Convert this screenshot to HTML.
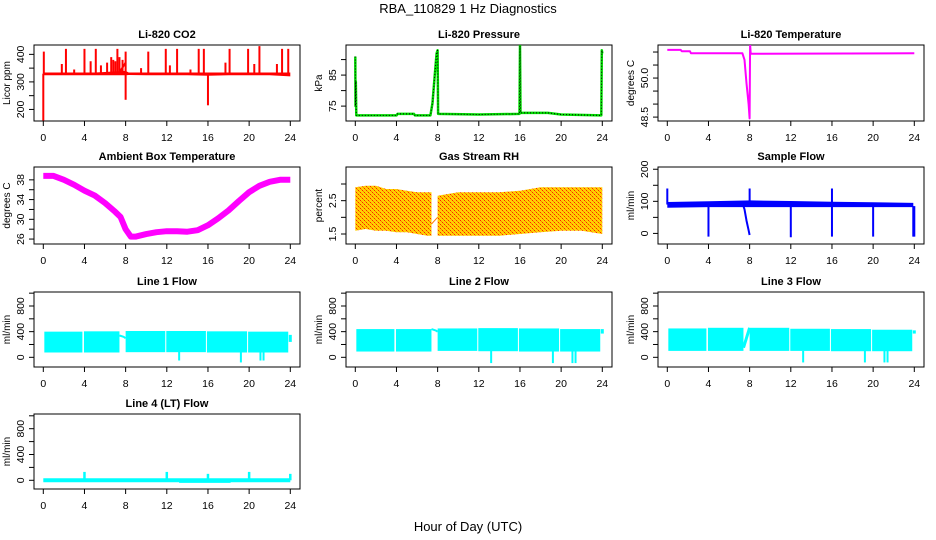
<!DOCTYPE html>
<html><head><meta charset="utf-8"><style>
html,body{margin:0;padding:0;background:#fff;}
svg{display:block;font-family:"Liberation Sans",Arial,sans-serif;}
</style></head><body>
<svg id="chart" width="936" height="540" viewBox="0 0 936 540">
<defs>
<pattern id="rhpat" width="4" height="4" patternUnits="userSpaceOnUse">
<rect width="4" height="4" fill="#ffd000"/>
<rect x="0" y="0" width="1" height="1" fill="#ff2000"/>
<rect x="2" y="2" width="1" height="1" fill="#ff2000"/>
<rect x="1" y="1" width="1" height="1" fill="#ff8000"/>
<rect x="3" y="3" width="1" height="1" fill="#ff8000"/>
</pattern>
</defs>
<text x="468" y="13" text-anchor="middle" font-size="13">RBA_110829  1 Hz Diagnostics</text>
<text x="468" y="531" text-anchor="middle" font-size="13">Hour of Day (UTC)</text>
</svg>
<script>
// ---- data ----
const xTicks = [0,4,8,12,16,20,24];
const co2BandHours = [0,2,4,5,6,7,8,8.3,10,12,14,16,18,20,22,24];
const co2BandHi = [334,334,334,334,336,338,340,334,334,334,334,334,334,334,334,334];
const co2BandLo = [324,324,324,324,324,324,324,325,324,324,324,322,324,324,324,320];
const co2SpikeHours = [0.05,2.2,4.0,5.1,7.2,8.0,10.2,11.9,13.0,15.1,15.6,18.1,19.9,21.0,23.2,23.8,0.0,8.0,16.0,1.8,6.6,17.7,20.5,4.6,5.6,6.2,6.8,7.0,7.4,7.7,3.0,9.5,12.3,14.3,22.7];
const co2SpikeVals = [410,420,420,420,420,410,410,420,420,420,420,420,420,430,420,420,160,235,215,365,390,370,365,375,360,370,380,375,390,380,345,350,360,345,365];
const presHours = [0,0.02,0.05,0.1,4,4.1,5.7,5.8,7.3,7.5,7.7,7.9,8.0,8.05,12,15.95,16.0,16.05,18.7,20,23.9,23.95,24];
const presVals = [91,75,83,72,72,72.5,72.5,72,72,76,84,92,93,72.5,72.3,72.5,94.5,72.8,72.8,72.3,72,93,92];
const tempHours = [0,1.3,1.4,2.2,2.3,7.3,7.5,7.7,7.9,8.0,8.05,8.1,8.15,24];
const tempVals = [51.08,51.08,51.03,51.03,50.95,50.95,50.7,49.8,49.0,48.45,51.3,50.93,50.93,50.95];
const ambHours = [0,1,2,3,4,5,6,7,7.5,8,8.5,9,10,11,12,13,14,15,16,17,18,19,20,21,22,23,24];
const ambVals = [38.8,38.8,38,37,35.8,34.8,33.3,31.5,30.5,28,26.5,26.5,27,27.4,27.6,27.6,27.5,27.8,28.8,30.2,31.8,33.7,35.5,36.8,37.6,38,38];
const rhHours1 = [0,1,2,3,4,5,6,7,7.4];
const rhHi1 = [2.9,2.95,2.95,2.85,2.85,2.8,2.75,2.75,2.75];
const rhLo1 = [1.6,1.65,1.6,1.6,1.55,1.55,1.5,1.45,1.45];
const rhHours2 = [8,10,12,14,16,18,20,22,24];
const rhHi2 = [2.65,2.75,2.75,2.75,2.8,2.9,2.9,2.9,2.9];
const rhLo2 = [1.45,1.45,1.45,1.45,1.5,1.55,1.6,1.6,1.5];
const sfHours = [0,4,8.1,12,16,20,23.9];
const sfHi = [98,100,103,101,99,97,95];
const sfLo = [80,82,82,82,82,82,82];
const sfDropHours = [4,12,16,20,24,23.9];
const sfDropVals = [-10,-12,-10,-10,-10,-10];
const sfRampHours = [7.3,7.5,7.7,7.9,8.0];
const sfRampVals = [95,75,40,10,-5];
const sfPeakHours = [0,8.0,16];
const sfPeakVals = [140,140,140];
const flowSegStart = [0.1,3.95,8.0,11.95,15.9,19.9];
const flowSegEnd = [3.8,7.4,11.85,15.8,19.8,23.8];
const line1Hi = [400,405,410,410,405,400];
const line1Lo = [75,75,80,80,75,75];
const line2Hi = [440,440,450,455,450,440];
const line2Lo = [90,90,100,95,90,90];
const line3Hi = [450,460,460,445,440,430];
const line3Lo = [100,100,100,100,95,95];
const flowDropHours = [13.2,19.2,21.1,21.4];
const line1DropVals = [-50,-80,-50,-50];
const line2DropVals = [-90,-90,-90,-90];
const line3DropVals = [-80,-80,-80,-80];
const l4SpikeHours = [4,12,16,20,24];
const l4SpikeVals = [130,130,100,130,100];
const l4NegHours = [13.2,18.2];
const l4NegVals = [-40,-40];

// ---- helpers ----
const NS = "http://www.w3.org/2000/svg";
const svg = document.getElementById('chart');
function mk(tag, attrs, parent){
  const e = document.createElementNS(NS, tag);
  for (const k in attrs) e.setAttribute(k, attrs[k]);
  (parent||svg).appendChild(e);
  return e;
}
const cols = [34,346,658];
const rows = [[45,121],[167,244],[292,367],[414,489]];
function makePanel(col,row,title,ylab,ymin,ymax,yTicks,yLabels,name){
  const L = cols[col], R = L+266, T = rows[row][0], B = rows[row][1];
  const g = mk('g',{});
  
  
  const sx = h => L + 9.3 + h*(247/24);
  const sy = v => B - (v-ymin)/(ymax-ymin)*(B-T);
  const box = mk('rect',{x:L,y:T,width:R-L,height:B-T,fill:'none',stroke:'#000','stroke-width':1},g);
  
  
  const t = mk('text',{x:(L+R)/2,y:T-7,'text-anchor':'middle','font-size':11,'font-weight':'bold'},g);
  t.textContent = title;
  
  
  const xa = mk('g',{},g);
  
  
  mk('line',{x1:sx(0),x2:sx(24),y1:B,y2:B,stroke:'#000'},xa);
  xTicks.forEach(h=>{
    mk('line',{x1:sx(h),x2:sx(h),y1:B,y2:B+5,stroke:'#000'},xa);
    const tl = mk('text',{x:sx(h),y:B+20,'text-anchor':'middle','font-size':10.5},xa);
    tl.textContent = h;
    
    
  });
  const ya = mk('g',{},g);
  
  
  mk('line',{x1:L,x2:L,y1:sy(yTicks[0]),y2:sy(yTicks[yTicks.length-1]),stroke:'#000'},ya);
  yTicks.forEach((v,i)=>{
    mk('line',{x1:L-5,x2:L,y1:sy(v),y2:sy(v),stroke:'#000'},ya);
    if (yLabels[i]) {
      const yl = mk('text',{x:L-10,y:sy(v),'text-anchor':'middle','font-size':10.5,transform:`rotate(-90 ${L-10} ${sy(v)})`},ya);
      yl.textContent = yLabels[i];
      
      
    }
  });
  const yt = mk('text',{x:L-24,y:(T+B)/2,'text-anchor':'middle','font-size':10,transform:`rotate(-90 ${L-24} ${(T+B)/2})`},g);
  yt.textContent = ylab;
  
  
  const clip = 'c'+name;
  const cp = mk('clipPath',{id:clip},g); mk('rect',{x:L,y:T,width:R-L,height:B-T},cp);
  const dg = mk('g',{'clip-path':`url(#${clip})`},g);
  
  
  return {sx,sy,g:dg};
}
function line(p,hs,vs,color,w,extra){
  const pts = hs.map((h,i)=>p.sx(h).toFixed(1)+','+p.sy(vs[i]).toFixed(1)).join(' ');
  const e = mk('polyline',Object.assign({points:pts,fill:'none',stroke:color,'stroke-width':w,'stroke-linejoin':'round'},extra||{}),p.g);
  
  
  return e;
}
function band(p,hs,hi,lo,fill){
  const up = hs.map((h,i)=>p.sx(h).toFixed(1)+','+p.sy(hi[i]).toFixed(1));
  const dn = hs.map((h,i)=>p.sx(h).toFixed(1)+','+p.sy(lo[i]).toFixed(1)).reverse();
  const e = mk('polygon',{points:up.concat(dn).join(' '),fill:fill,stroke:'none'},p.g);
  
  
  return e;
}
function spikes(p,hs,vs,base,color,w){
  hs.forEach((h,i)=>{
    const e = mk('line',{x1:p.sx(h),x2:p.sx(h),y1:p.sy(base),y2:p.sy(vs[i]),stroke:color,'stroke-width':w},p.g);
    
    
  });
}
function segBands(p,st,en,hi,lo,color){
  st.forEach((s,i)=>{
    const e = mk('rect',{x:p.sx(s),y:p.sy(hi[i]),width:p.sx(en[i])-p.sx(s),height:p.sy(lo[i])-p.sy(hi[i]),fill:color},p.g);
    
    
  });
}

// ---- panels ----
const p1 = makePanel(0,0,'Li-820 CO2','Licor ppm',158,434,[200,250,300,350,400],['200','','300','','400'],'co2');
band(p1,co2BandHours,co2BandHi,co2BandLo,'#ff0000');
spikes(p1,co2SpikeHours,co2SpikeVals,330,'#ff0000',2);
line(p1,[7.4,8.0],[335,370],'#ff0000',2);

const p2 = makePanel(1,0,'Li-820 Pressure','kPa',70.2,94.7,[75,80,85,90],['75','','85',''],'pressure');
line(p2,presHours,presVals,'#00dd00',2.5);
line(p2,presHours,presVals,'#000',1,{'stroke-dasharray':'1,2'});

const p3 = makePanel(2,0,'Li-820 Temperature','degrees C',48.35,51.27,[48.5,49,49.5,50,50.5,51],['48.5','','','50.0','',''],'temperature');
line(p3,tempHours,tempVals,'#ff00ff',2);

const p4 = makePanel(0,1,'Ambient Box Temperature','degrees C',25.0,40.6,[26,28,30,32,34,36,38],['26','','30','','34','','38'],'ambient');
line(p4,ambHours,ambVals,'#ff00ff',6);

const p5 = makePanel(1,1,'Gas Stream RH','percent',1.2,3.51,[1.5,2,2.5,3],['1.5','','2.5',''],'rh');
band(p5,rhHours1,rhHi1,rhLo1,'url(#rhpat)');
band(p5,rhHours2,rhHi2,rhLo2,'url(#rhpat)');
line(p5,[7.4,8],[1.8,2.0],'#ff8000',1);

const p6 = makePanel(2,1,'Sample Flow','ml/min',-33,207,[0,50,100,150,200],['0','','100','','200'],'sample-flow');
band(p6,sfHours,sfHi,sfLo,'#0000ff');
line(p6,sfRampHours,sfRampVals,'#0000ff',2);
spikes(p6,sfDropHours,sfDropVals,85,'#0000ff',2);
spikes(p6,sfPeakHours,sfPeakVals,90,'#0000ff',2);

const fTicks = [0,200,400,600,800,1000], fLabels = ['0','','400','','800',''];
const cy = '#00ffff';
const p7 = makePanel(0,2,'Line 1 Flow','ml/min',-151,1018,fTicks,fLabels,'line1-flow');
segBands(p7,flowSegStart,flowSegEnd,line1Hi,line1Lo,cy);
line(p7,[7.4,7.8,8.0],[340,320,300],cy,2);
spikes(p7,flowDropHours,line1DropVals,100,cy,2);
spikes(p7,[24],[350],240,cy,3);

const p8 = makePanel(1,2,'Line 2 Flow','ml/min',-151,1018,fTicks,fLabels,'line2-flow');
segBands(p8,flowSegStart,flowSegEnd,line2Hi,line2Lo,cy);
line(p8,[7.4,7.8,8.0],[440,420,400],cy,2);
spikes(p8,flowDropHours,line2DropVals,100,cy,2);
spikes(p8,[24],[440],370,cy,3);

const p9 = makePanel(2,2,'Line 3 Flow','ml/min',-151,1018,fTicks,fLabels,'line3-flow');
segBands(p9,flowSegStart,flowSegEnd,line3Hi,line3Lo,cy);
line(p9,[7.4,8.0],[150,460],cy,3);
spikes(p9,flowDropHours,line3DropVals,100,cy,2);
spikes(p9,[24],[420],370,cy,3);

const p10 = makePanel(0,3,'Line 4 (LT) Flow','ml/min',-135,1028,fTicks,fLabels,'line4-flow');
line(p10,[0,24],[0,0],cy,4);
band(p10,l4NegHours,[0,0],l4NegVals,cy);
spikes(p10,l4SpikeHours,l4SpikeVals,0,cy,2.5);
</script>
</body></html>
